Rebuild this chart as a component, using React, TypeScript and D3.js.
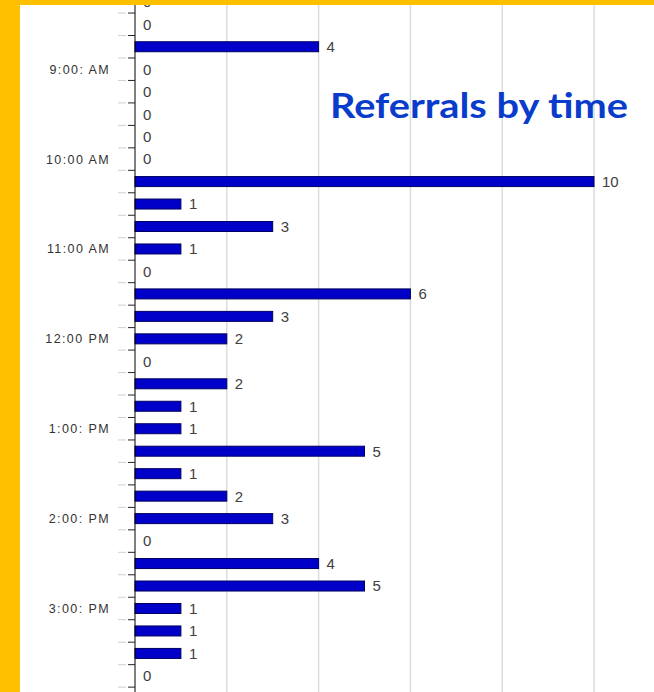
import React from "react";
import * as d3 from "d3";

// Quarter-hour slots, top to bottom
const slots: string[] = [
  "8:15 AM", "8:30 AM", "8:45 AM",
  "9:00 AM", "9:15 AM", "9:30 AM", "9:45 AM",
  "10:00 AM", "10:15 AM", "10:30 AM", "10:45 AM",
  "11:00 AM", "11:15 AM", "11:30 AM", "11:45 AM",
  "12:00 PM", "12:15 PM", "12:30 PM", "12:45 PM",
  "1:00 PM", "1:15 PM", "1:30 PM", "1:45 PM",
  "2:00 PM", "2:15 PM", "2:30 PM", "2:45 PM",
  "3:00 PM", "3:15 PM", "3:30 PM", "3:45 PM",
];

// Referrals counted in each slot
const referrals: number[] = [
  0, 0, 4,
  0, 0, 0, 0,
  0, 10, 1, 3,
  1, 0, 6, 3,
  2, 0, 2, 1,
  1, 5, 1, 2,
  3, 0, 4, 5,
  1, 1, 1, 0,
];

// Hour labels shown on the category axis
const hourSlots: string[] = ["9:00 AM", "10:00 AM", "11:00 AM", "12:00 PM", "1:00 PM", "2:00 PM", "3:00 PM"];
const hourLabels: string[] = ["9:00: AM", "10:00 AM", "11:00 AM", "12:00 PM", "1:00: PM", "2:00: PM", "3:00: PM"];

const gridValues: number[] = [2, 4, 6, 8, 10];

const W = 654;
const H = 692;
const PANEL_X = 20;
const PANEL_Y = 5;

export default function App() {
  const x = d3.scaleLinear().domain([0, 10]).range([135, 594]);
  const step = 22.47;
  const top = 1.8 - step / 2;
  const y = d3
    .scaleBand<string>()
    .domain(slots)
    .range([top, top + step * slots.length])
    .padding(0);
  const barH = 10;
  const center = (s: string) => (y(s) as number) + y.bandwidth() / 2;
  const boundaries = slots.map((s) => y(s) as number).concat([top + step * slots.length]);

  return (
    <svg
      width={W}
      height={H}
      viewBox={`0 0 ${W} ${H}`}
      style={{ position: "absolute", left: 0, top: 0, display: "block" }}
    >
      <defs>
        <clipPath id="panel">
          <rect x={PANEL_X} y={PANEL_Y} width={W - PANEL_X} height={H - PANEL_Y} />
        </clipPath>
      </defs>
      <rect x={0} y={0} width={W} height={H} fill="#ffc000" />
      <rect x={PANEL_X} y={PANEL_Y} width={W - PANEL_X} height={H - PANEL_Y} fill="#ffffff" />

      <g clipPath="url(#panel)">
        {/* vertical grid */}
        {gridValues.map((v) => (
          <line key={v} x1={x(v)} x2={x(v)} y1={PANEL_Y} y2={H} stroke="#dcdcdc" strokeWidth={1.5} />
        ))}

        {/* bars */}
        {slots.map((s, i) =>
          referrals[i] > 0 ? (
            <rect
              key={s}
              x={x(0)}
              y={center(s) - barH / 2}
              width={x(referrals[i]) - x(0)}
              height={barH}
              fill="#0000c8"
              stroke="#000060"
              strokeWidth={1}
            />
          ) : null
        )}

        {/* value labels */}
        {slots.map((s, i) => (
          <text
            key={"v" + s}
            x={x(referrals[i]) + 8}
            y={center(s)}
            dy="0.36em"
            fontFamily="'Liberation Sans', Arial, sans-serif"
            fontSize={15}
            fill="#404040"
          >
            {referrals[i]}
          </text>
        ))}

        {/* category axis */}
        <line x1={x(0)} x2={x(0)} y1={PANEL_Y} y2={H} stroke="#000" strokeWidth={1} />
        {boundaries.map((b, i) => (
          <g key={"t" + i}>
            <line x1={118} x2={126} y1={b} y2={b} stroke="#d0d0d0" strokeWidth={1} />
            <line x1={128} x2={x(0)} y1={b} y2={b} stroke="#222" strokeWidth={1} />
          </g>
        ))}
        {hourSlots.map((s, i) => (
          <text
            key={"h" + s}
            x={110}
            y={center(s)}
            dy="0.36em"
            textAnchor="end"
            fontFamily="'Liberation Sans', Arial, sans-serif"
            fontSize={12.5}
            letterSpacing={1.4}
            fill="#333"
          >
            {hourLabels[i]}
          </text>
        ))}

        {/* title */}
        <text
          x={330}
          y={118}
          fontFamily="Lato, 'Open Sans', sans-serif"
          fontWeight="bold"
          fontSize={35}
          textLength={298}
          lengthAdjust="spacingAndGlyphs"
          fill="#0a3ccc"
        >
          Referrals by time
        </text>
      </g>
    </svg>
  );
}
